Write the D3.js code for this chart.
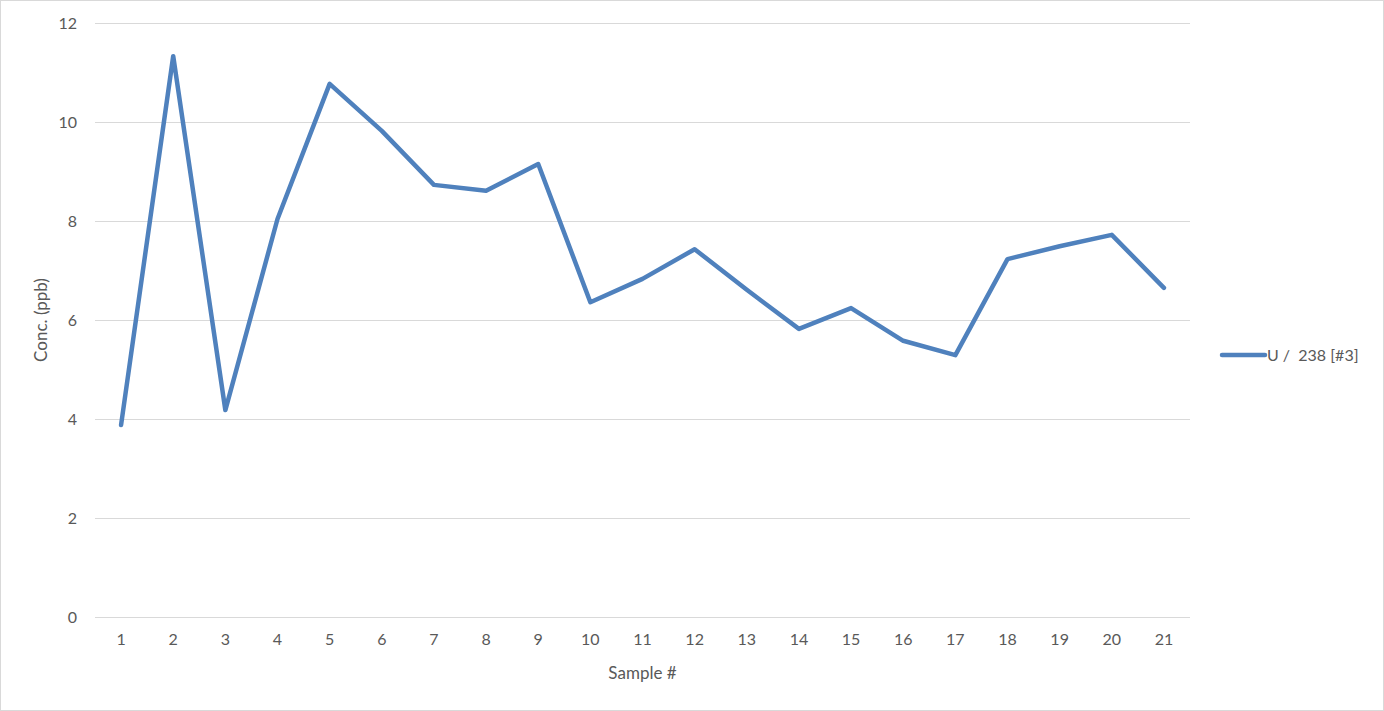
<!DOCTYPE html>
<html><head><meta charset="utf-8">
<script src="https://cdn.jsdelivr.net/npm/d3@7"></script>
<style>html,body{margin:0;padding:0;background:#fff;}svg{display:block;}</style>
</head><body>
<svg id="chart" width="1384" height="711"></svg>
<script>
const samples = ["1","2","3","4","5","6","7","8","9","10","11","12","13","14","15","16","17","18","19","20","21"];
const u238 = [3.88,11.33,4.18,8.04,10.77,9.82,8.73,8.61,9.15,6.36,6.83,7.43,6.61,5.82,6.24,5.58,5.29,7.23,7.49,7.72,6.65];
const yTicks = [0,2,4,6,8,10,12];
const seriesName = "U /  238 [#3]";
const xTitle = "Sample #";
const yTitle = "Conc. (ppb)";

const svg = d3.select("#chart");
const W = 1384, H = 711;
const font = "Lato, 'Open Sans', sans-serif";
const txt = "#595959";
svg.append("rect").attr("x",0.5).attr("y",0.5).attr("width",W-1).attr("height",H-1)
  .attr("fill","#fff").attr("stroke","#d9d9d9");

const m = {left:95, right:1190, top:23, bottom:617};
const x = d3.scaleBand().domain(samples).range([m.left,m.right]);
const y = d3.scaleLinear().domain([0,12]).range([m.bottom,m.top]);

const gGrid = svg.append("g");
gGrid.selectAll("line").data(yTicks).join("line")
  .attr("x1",m.left).attr("x2",m.right)
  .attr("y1",d=>Math.round(y(d))+0.5).attr("y2",d=>Math.round(y(d))+0.5)
  .attr("stroke","#d9d9d9").attr("stroke-width",1);

const yAxis = svg.append("g").attr("transform",`translate(${m.left},0)`)
  .call(d3.axisLeft(y).tickValues(yTicks).tickSize(0).tickPadding(18));
yAxis.select(".domain").remove();
yAxis.selectAll("text").attr("font-family",font).attr("font-size",16).attr("fill",txt);

const xAxis = svg.append("g").attr("transform",`translate(0,${m.bottom})`)
  .call(d3.axisBottom(x).tickSize(0).tickPadding(17));
xAxis.select(".domain").remove();
xAxis.selectAll("text").attr("font-family",font).attr("font-size",16).attr("fill",txt);

const line = d3.line().x((d,i)=>x(samples[i])+x.bandwidth()/2).y(d=>y(d));
svg.append("path").datum(u238).attr("d",line)
  .attr("fill","none").attr("stroke","#4f81bd").attr("stroke-width",4.5)
  .attr("stroke-linejoin","round").attr("stroke-linecap","round");

svg.append("text").attr("x",(m.left+m.right)/2+0).attr("y",679)
  .attr("text-anchor","middle").attr("font-family",font).attr("font-size",17).attr("fill",txt).text(xTitle);
svg.append("text").attr("transform",`translate(47,${(m.top+m.bottom)/2}) rotate(-90)`)
  .attr("text-anchor","middle").attr("font-family",font).attr("font-size",17).attr("fill",txt).text(yTitle);

const lg = svg.append("g").attr("transform","translate(1222,355)");
lg.append("line").attr("x1",0).attr("x2",43).attr("y1",0).attr("y2",0)
  .attr("stroke","#4f81bd").attr("stroke-width",4.5).attr("stroke-linecap","round");
lg.append("text").attr("x",45).attr("y",6).attr("font-family",font).attr("font-size",16)
  .attr("fill",txt).attr("xml:space","preserve").style("white-space","pre").text(seriesName);
</script>
</body></html>
